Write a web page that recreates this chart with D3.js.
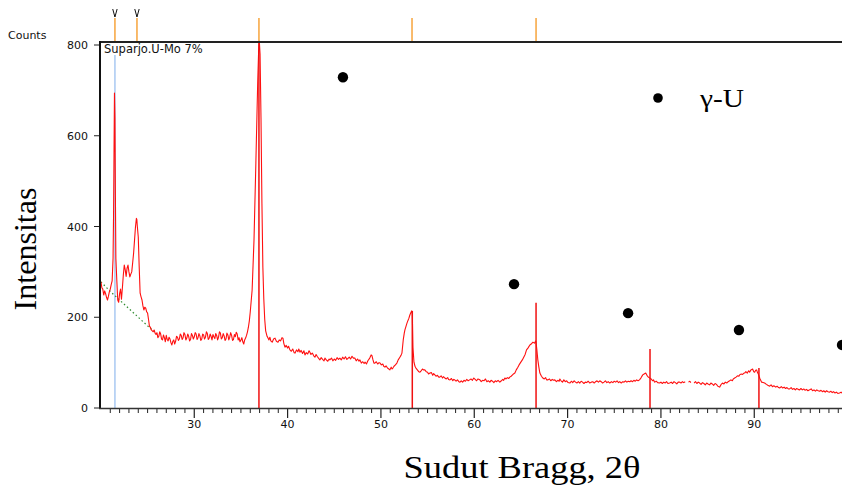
<!DOCTYPE html>
<html>
<head>
<meta charset="utf-8">
<script src="https://cdn.jsdelivr.net/npm/d3@7"></script>
<style>
  body { margin: 0; background: #fff; }
  svg { display: block; }
</style>
</head>
<body>
<div id="chart"></div>
<script>
// XRD scan: [2theta, counts]; null = gap in the recorded line
const scanPoints = [
  [20.0,278],[20.1,265],[20.2,262],[20.3,249],[20.4,258],[20.5,252],[20.6,244],[20.7,238],[20.8,246],[20.9,256],
  [21.0,262],[21.1,272],[21.2,280],[21.3,330],[21.35,420],[21.4,560],[21.45,694],[21.5,640],[21.55,470],[21.6,330],
  [21.7,282],[21.8,238],[21.9,233],[22.0,252],[22.1,262],[22.2,240],[22.3,265],[22.4,293],[22.5,315],[22.6,305],
  [22.7,290],[22.8,308],[22.9,315],[23.0,300],[23.1,289],[23.2,295],[23.3,300],[23.4,320],[23.5,341],[23.6,370],
  [23.7,399],[23.8,418],[23.85,415],[23.9,400],[24.0,377],[24.1,311],[24.2,253],[24.3,245],[24.4,238],[24.5,225],
  [24.6,216],[24.7,222],[24.8,220],[24.9,212],[25.0,209],[25.1,195],[25.2,180],[25.3,178],[25.4,172],[25.5,170],
  [25.6,168],[25.7,172],[25.8,165],[25.9,162],[26.0,166],[26.1,155],[26.2,158],[26.3,168],[26.4,163],[26.5,152],
  [26.6,150],[26.7,161],[26.8,155],[26.9,146],[27.0,160],[27.1,151],[27.2,148],[27.3,156],[27.4,152],[27.5,144],
  [27.6,139],[27.7,147],[27.8,150],[27.9,141],[28.0,147],[28.1,158],[28.2,156],[28.3,149],[28.4,152],[28.5,163],
  [28.6,160],[28.7,151],[28.8,155],[28.9,166],[29.0,162],[29.1,150],[29.2,154],[29.3,163],[29.4,158],[29.5,148],
  [29.6,151],[29.7,164],[29.8,160],[29.9,152],[30.0,157],[30.1,166],[30.2,163],[30.3,151],[30.4,155],[30.5,164],
  [30.6,159],[30.7,149],[30.8,152],[30.9,163],[31.0,161],[31.1,152],[31.2,156],[31.3,168],[31.4,164],[31.5,151],
  [31.6,154],[31.7,163],[31.8,158],[31.9,150],[32.0,162],[32.1,157],[32.2,153],[32.3,164],[32.4,160],[32.5,150],
  [32.6,156],[32.7,168],[32.8,165],[32.9,152],[33.0,155],[33.1,164],[33.2,159],[33.3,149],[33.4,152],[33.5,165],
  [33.6,161],[33.7,150],[33.8,156],[33.9,166],[34.0,160],[34.1,149],[34.2,151],[34.3,162],[34.4,157],[34.5,167],
  [34.6,163],[34.7,150],[34.8,155],[34.9,146],[35.0,150],[35.1,155],[35.2,146],[35.3,141],[35.4,150],[35.5,154],
  [35.6,160],[35.7,168],[35.8,178],[35.9,192],[36.0,212],[36.2,260],[36.4,370],[36.6,540],[36.8,720],[36.9,790],
  [36.97,808],[37.05,780],[37.15,640],[37.25,450],[37.35,310],[37.45,240],[37.55,195],[37.65,170],[37.8,158],[37.9,154],
  [38.0,150],[38.1,156],[38.2,148],[38.35,145],[38.5,152],[38.65,154],[38.8,147],[38.97,145],[39.1,150],[39.25,148],
  [39.4,155],[39.5,154],[39.6,142],[39.72,134],[39.85,138],[40.0,132],[40.1,136],[40.25,128],[40.4,125],[40.55,130],
  [40.7,122],[40.8,121],[40.95,128],[41.1,124],[41.2,130],[41.32,123],[41.45,127],[41.6,120],[41.75,126],[41.86,117],
  [42.0,122],[42.15,119],[42.3,126],[42.39,123],[42.5,118],[42.65,121],[42.8,115],[42.93,112],[43.05,118],[43.2,113],
  [43.35,109],[43.46,106],[43.6,111],[43.75,107],[43.9,104],[44.0,110],[44.15,106],[44.3,103],[44.45,108],[44.53,106],
  [44.7,110],[44.85,104],[45.0,108],[45.15,105],[45.3,111],[45.45,107],[45.6,110],[45.75,106],[45.9,112],[46.05,108],
  [46.2,113],[46.35,107],[46.5,110],[46.6,112],[46.75,108],[46.9,114],[47.05,110],[47.2,110],[47.35,104],[47.5,108],
  [47.65,103],[47.75,106],[47.9,99],[48.05,102],[48.2,98],[48.3,101],[48.45,97],[48.6,104],[48.8,110],[48.95,117],
  [49.03,116],[49.15,106],[49.25,99],[49.35,99],[49.5,102],[49.65,97],[49.8,100],[49.9,99],[50.05,95],[50.2,97],
  [50.3,92],[50.43,90],[50.55,93],[50.7,88],[50.85,86],[50.96,84],[51.1,90],[51.2,86],[51.28,88],[51.4,92],
  [51.55,95],[51.71,99],[51.85,106],[52.03,112],[52.15,116],[52.25,121],[52.39,150],[52.5,165],[52.57,172],[52.7,181],
  [52.79,187],[52.9,193],[53.0,198],[53.1,205],[53.2,210],[53.29,214],[53.36,208],[53.43,134],[53.54,101],[53.65,92],
  [53.75,88],[53.9,84],[54.05,80],[54.18,79],[54.3,82],[54.45,86],[54.55,84],[54.7,84],[54.85,80],[55.0,79],
  [55.1,75],[55.25,77],[55.4,78],[55.55,72],[55.65,76],[55.78,73],[55.9,70],[56.05,72],[56.2,68],[56.3,68],
  [56.45,71],[56.6,66],[56.7,69],[56.85,66],[57.0,64],[57.15,67],[57.25,63],[57.4,62],[57.55,65],[57.7,60],
  [57.8,63],[57.9,62],[58.05,59],[58.2,62],[58.35,58],[58.47,57],[58.6,60],[58.75,57],[58.9,61],[59.05,59],
  [59.2,63],[59.35,60],[59.5,62],[59.65,64],[59.8,61],[59.95,66],[60.1,63],[60.25,60],[60.4,64],[60.6,62],
  [60.75,58],[60.9,61],[61.05,60],[61.2,64],[61.35,58],[61.5,60],[61.67,57],[61.8,61],[61.95,59],[62.1,56],
  [62.25,60],[62.4,58],[62.55,61],[62.74,57],[62.9,60],[63.05,63],[63.15,61],[63.28,66],[63.4,64],[63.55,67],
  [63.7,65],[63.8,68],[63.95,70],[64.1,73],[64.2,75],[64.35,77],[64.5,84],[64.67,90],[64.8,95],[64.99,101],
  [65.15,106],[65.3,112],[65.45,118],[65.6,128],[65.75,132],[65.96,139],[66.1,141],[66.28,145],[66.45,143],[66.6,148],
  [66.7,130],[66.81,106],[66.92,90],[67.03,77],[67.2,70],[67.35,66],[67.5,64],[67.65,67],[67.75,62],[67.9,62],
  [68.05,64],[68.2,60],[68.35,63],[68.5,61],[68.63,62],[68.8,58],[68.95,61],[69.1,59],[69.17,64],[69.3,60],
  [69.45,57],[69.6,62],[69.75,58],[69.9,60],[70.05,56],[70.24,55],[70.4,59],[70.55,56],[70.7,60],[70.85,57],
  [71.0,55],[71.15,58],[71.31,55],[71.45,59],[71.6,57],[71.75,54],[71.9,57],[72.05,56],[72.2,59],[72.38,55],
  [72.55,57],[72.7,58],[72.85,55],[73.0,58],[73.15,60],[73.3,57],[73.45,60],[73.6,58],[73.75,55],[73.9,57],
  [74.05,60],[74.2,56],[74.35,58],[74.52,55],[74.7,58],[74.85,56],[75.0,59],[75.15,57],[75.3,60],[75.45,56],
  [75.59,58],[75.75,55],[75.9,58],[76.05,57],[76.2,60],[76.35,57],[76.5,59],[76.66,58],[76.8,60],[76.95,58],
  [77.1,61],[77.25,59],[77.4,62],[77.55,60],[77.7,62],[77.85,66],[78.05,73],[78.2,75],[78.37,77],[78.5,72],
  [78.65,68],[78.8,66],[78.95,64],[79.1,60],[79.2,62],[79.33,57],[79.5,59],[79.65,56],[79.87,55],[80.0,57],
  [80.15,54],[80.3,57],[80.45,55],[80.6,58],[80.75,54],[80.94,55],[81.1,57],[81.25,54],[81.4,58],[81.55,56],
  [81.7,53],[81.85,57],[82.0,57],[82.15,55],[82.3,58],[82.45,56],[82.6,58],[82.7,null],[82.95,57],[83.1,59],
  [83.2,56],[83.3,null],[83.55,55],[83.7,58],[83.85,54],[84.0,57],[84.15,55],[84.3,52],[84.45,56],[84.6,54],
  [84.75,51],[84.9,55],[85.05,53],[85.22,51],[85.35,55],[85.5,53],[85.65,50],[85.8,54],[85.95,52],[86.1,48],
  [86.29,46],[86.45,52],[86.6,55],[86.75,53],[86.9,57],[87.05,55],[87.2,58],[87.36,60],[87.5,62],[87.65,60],
  [87.75,64],[87.9,66],[88.05,68],[88.2,71],[88.35,70],[88.43,73],[88.6,75],[88.75,74],[88.9,77],[88.97,77],
  [89.1,80],[89.25,77],[89.4,82],[89.5,79],[89.65,84],[89.82,86],[89.95,80],[90.04,79],[90.15,83],[90.25,84],
  [90.35,78],[90.47,73],[90.6,65],[90.79,57],[90.95,56],[91.11,55],[91.3,52],[91.45,50],[91.65,48],[91.8,51],
  [91.95,47],[92.1,49],[92.3,46],[92.45,48],[92.6,45],[92.72,44],[92.9,47],[93.05,44],[93.2,46],[93.35,43],
  [93.5,45],[93.65,42],[93.79,42],[93.95,45],[94.1,41],[94.25,43],[94.4,40],[94.55,43],[94.7,41],[94.86,40],
  [95.0,43],[95.15,40],[95.3,42],[95.45,39],[95.6,41],[95.75,38],[95.93,40],[96.1,42],[96.25,38],[96.4,40],
  [96.55,37],[96.7,40],[96.85,38],[97.0,37],[97.15,39],[97.3,36],[97.45,38],[97.6,35],[97.75,38],[97.9,36],
  [98.07,35],[98.2,37],[98.35,34],[98.5,36],[98.65,33],[98.8,35],[98.95,32],[99.14,33],[99.3,35],[99.45,32],
  [99.6,34],[99.8,31],[100.0,33]
];

// fitted background (green dotted)
const backgroundPoints = [[20,278],[21,257],[22,238],[23,219],[24,200],[25,181],[25.5,172],[26,165]];

// reference pattern lines (red sticks)
const refAngles = [36.93, 53.36, 66.62, 78.83, 90.5];
const refCounts = [806, 214, 232, 130, 88];

// blue marker line
const blueAngle = 21.5;
const blueCount = 778;

// orange peak markers above the frame; first two flagged with a black "V"
const peakMarkAngles = [21.5, 23.86, 36.93, 53.33, 66.62];
const flaggedMarks = [21.5, 23.86];

// gamma-U phase dots
const gammaAngles = [45.93, 64.26, 76.48, 88.36, 99.4];
const gammaCounts = [729, 273, 209, 172, 139];

const yTicks = [0, 200, 400, 600, 800];
const xTicks = [30, 40, 50, 60, 70, 80, 90];
const xMinorTicks = d3.range(20, 101, 1);

(function () {
    const width = 842;
    const height = 485;

    const x = d3.scaleLinear().domain([19.9, 100]).range([100, 847.6]);
    const y = d3.scaleLinear().domain([0, 800]).range([408, 45]);
    const plotTop = 42;

    const svg = d3.select("#chart")
        .append("svg")
        .attr("width", width)
        .attr("height", height);

    const tickFont = "'DejaVu Sans', sans-serif";
    const serif = "'Liberation Serif', 'Times New Roman', serif";

    // y ticks + labels
    svg.append("g")
        .selectAll("line")
        .data(yTicks)
        .join("line")
        .attr("x1", 94).attr("x2", 100)
        .attr("y1", d => y(d)).attr("y2", d => y(d))
        .attr("stroke", "#222").attr("stroke-width", 1);

    svg.append("g")
        .selectAll("text")
        .data(yTicks)
        .join("text")
        .attr("x", 88)
        .attr("y", d => y(d) + 4)
        .attr("text-anchor", "end")
        .attr("font-family", tickFont)
        .attr("font-size", 11)
        .attr("fill", "#111")
        .text(d => d);

    // x ticks
    svg.append("g")
        .selectAll("line")
        .data(xMinorTicks.filter(d => d % 10 !== 0))
        .join("line")
        .attr("x1", d => x(d)).attr("x2", d => x(d))
        .attr("y1", 409).attr("y2", 413)
        .attr("stroke", "#222").attr("stroke-width", 1);

    svg.append("g")
        .selectAll("line")
        .data(xTicks)
        .join("line")
        .attr("x1", d => x(d)).attr("x2", d => x(d))
        .attr("y1", 409).attr("y2", 418)
        .attr("stroke", "#222").attr("stroke-width", 1.2);

    svg.append("g")
        .selectAll("text")
        .data(xTicks)
        .join("text")
        .attr("x", d => x(d))
        .attr("y", 428)
        .attr("text-anchor", "middle")
        .attr("font-family", tickFont)
        .attr("font-size", 11)
        .attr("fill", "#111")
        .text(d => d);

    // orange markers above frame
    svg.append("g")
        .selectAll("line")
        .data(peakMarkAngles)
        .join("line")
        .attr("x1", d => x(d)).attr("x2", d => x(d))
        .attr("y1", 18).attr("y2", plotTop)
        .attr("stroke", "#f7a43c").attr("stroke-width", 1.5);

    svg.append("g")
        .selectAll("path")
        .data(flaggedMarks)
        .join("path")
        .attr("d", d => `M${x(d) - 2.2},9 L${x(d)},17 L${x(d) + 2.2},9`)
        .attr("fill", "none")
        .attr("stroke", "#111")
        .attr("stroke-width", 1);

    // blue marker line
    svg.append("line")
        .attr("x1", x(blueAngle)).attr("x2", x(blueAngle))
        .attr("y1", y(blueCount)).attr("y2", y(0))
        .attr("stroke", "#a9c9f2").attr("stroke-width", 1.5);

    // background fit
    svg.append("path")
        .datum(backgroundPoints)
        .attr("d", d3.line().x(d => x(d[0])).y(d => y(d[1])))
        .attr("fill", "none")
        .attr("stroke", "#2e8b2e")
        .attr("stroke-width", 1.2)
        .attr("stroke-dasharray", "1.5,2.5");

    // scan line
    svg.append("path")
        .datum(scanPoints)
        .attr("d", d3.line()
            .defined(d => d[1] !== null)
            .x(d => x(d[0]))
            .y(d => y(d[1])))
        .attr("fill", "none")
        .attr("stroke", "#ff1010")
        .attr("stroke-width", 1.1)
        .attr("stroke-linejoin", "round");

    // reference sticks
    svg.append("g")
        .selectAll("line")
        .data(refAngles)
        .join("line")
        .attr("x1", d => x(d)).attr("x2", d => x(d))
        .attr("y1", (d, i) => Math.max(y(refCounts[i]), plotTop)).attr("y2", y(0))
        .attr("stroke", "#f01010").attr("stroke-width", 1.5);

    // frame: top, left, bottom
    svg.append("line")
        .attr("x1", 100).attr("x2", width)
        .attr("y1", plotTop).attr("y2", plotTop)
        .attr("stroke", "#222").attr("stroke-width", 2);
    svg.append("line")
        .attr("x1", 100).attr("x2", 100)
        .attr("y1", plotTop - 1).attr("y2", 409)
        .attr("stroke", "#111").attr("stroke-width", 2);
    svg.append("line")
        .attr("x1", 99).attr("x2", width)
        .attr("y1", 408.5).attr("y2", 408.5)
        .attr("stroke", "#333").attr("stroke-width", 1.5);

    // gamma-U dots
    svg.append("g")
        .selectAll("circle")
        .data(gammaAngles)
        .join("circle")
        .attr("cx", d => x(d))
        .attr("cy", (d, i) => y(gammaCounts[i]))
        .attr("r", 5.2)
        .attr("fill", "#000");

    // legend
    svg.append("circle")
        .attr("cx", 658).attr("cy", 98).attr("r", 4.8)
        .attr("fill", "#000");
    svg.append("text")
        .attr("x", 700).attr("y", 107)
        .attr("font-family", serif)
        .attr("font-size", 25)
        .attr("textLength", 44)
        .attr("lengthAdjust", "spacingAndGlyphs")
        .attr("fill", "#000")
        .text("γ-U");

    // labels
    svg.append("text")
        .attr("x", 8).attr("y", 39)
        .attr("font-family", tickFont)
        .attr("font-size", 11)
        .attr("fill", "#111")
        .text("Counts");

    svg.append("text")
        .attr("x", 104).attr("y", 53)
        .attr("font-family", tickFont)
        .attr("font-size", 11.5)
        .attr("fill", "#111")
        .text("Suparjo.U-Mo 7%");

    svg.append("text")
        .attr("transform", "translate(36,249) rotate(-90)")
        .attr("text-anchor", "middle")
        .attr("font-family", serif)
        .attr("font-size", 31)
        .attr("textLength", 123)
        .attr("lengthAdjust", "spacingAndGlyphs")
        .attr("fill", "#000")
        .text("Intensitas");

    svg.append("text")
        .attr("x", 522).attr("y", 478)
        .attr("text-anchor", "middle")
        .attr("font-family", serif)
        .attr("font-size", 31)
        .attr("textLength", 237)
        .attr("lengthAdjust", "spacingAndGlyphs")
        .attr("fill", "#000")
        .text("Sudut Bragg, 2θ");
})();
</script>
</body>
</html>
